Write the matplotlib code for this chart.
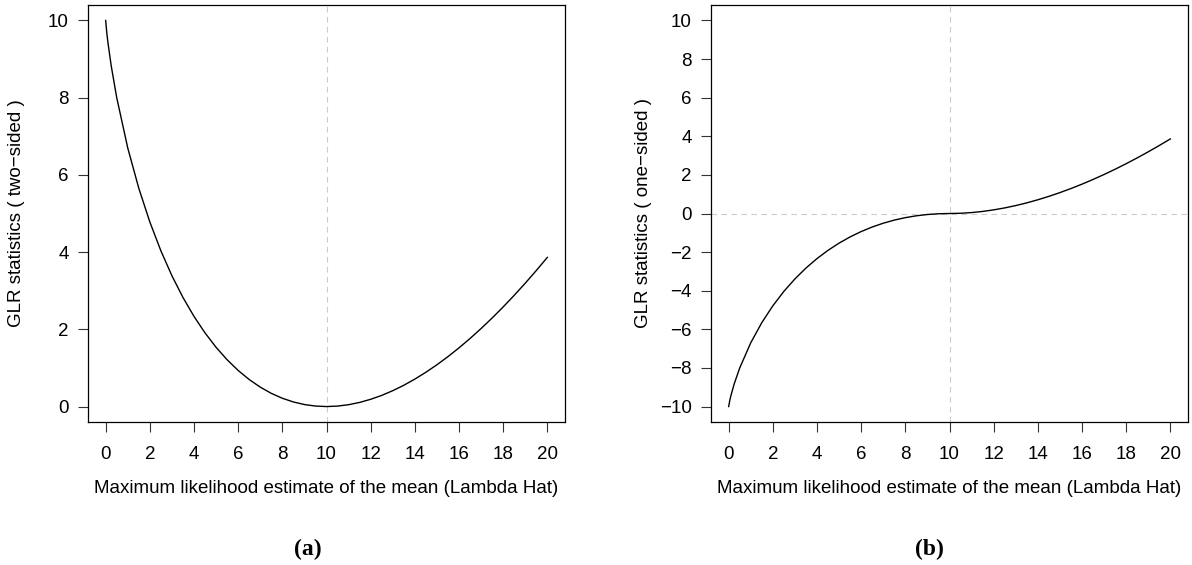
import numpy as np
import matplotlib
matplotlib.use('Agg')
import matplotlib.pyplot as plt

plt.rcParams['font.family'] = ['Liberation Sans', 'DejaVu Sans']
plt.rcParams['axes.unicode_minus'] = True

# MLE of the Poisson mean (null mean = 10)
lam_hat = [0, 0.05, 0.1, 0.25, 0.5, 1, 1.5, 2, 2.5, 3, 3.5, 4, 4.5, 5, 5.5, 6, 6.5,
           7, 7.5, 8, 8.5, 9, 9.5, 10, 10.5, 11, 11.5, 12, 12.5, 13, 13.5, 14,
           14.5, 15, 15.5, 16, 16.5, 17, 17.5, 18, 18.5, 19, 19.5, 20]

# GLR statistic, two-sided
glr_two = [10.0, 9.685, 9.439, 8.828, 8.002, 6.697, 5.654, 4.781, 4.034, 3.388,
           2.826, 2.335, 1.907, 1.534, 1.212, 0.935, 0.700, 0.503, 0.342, 0.215,
           0.119, 0.052, 0.013, 0.0, 0.012, 0.048, 0.107, 0.188, 0.289, 0.411,
           0.551, 0.711, 0.888, 1.082, 1.293, 1.520, 1.763, 2.021, 2.293, 2.580,
           2.881, 3.195, 3.523, 3.863]

# GLR statistic, one-sided (signed)
glr_one = [-10.0, -9.685, -9.439, -8.828, -8.002, -6.697, -5.654, -4.781, -4.034,
           -3.388, -2.826, -2.335, -1.907, -1.534, -1.212, -0.935, -0.700, -0.503,
           -0.342, -0.215, -0.119, -0.052, -0.013, 0.0, 0.012, 0.048, 0.107, 0.188,
           0.289, 0.411, 0.551, 0.711, 0.888, 1.082, 1.293, 1.520, 1.763, 2.021,
           2.293, 2.580, 2.881, 3.195, 3.523, 3.863]

x_ticks = np.arange(0, 21, 2)
W, H = 1192, 565
fig = plt.figure(figsize=(W / 100, H / 100), dpi=100)


def box(left, top, right, bottom):
    return [left / W, 1 - bottom / H, (right - left) / W, (bottom - top) / H]


def style(ax, ylim, yticks, ylab, ylab_x):
    ax.set_xlim(-0.8, 20.8)
    ax.set_ylim(*ylim)
    ax.set_xticks(x_ticks)
    ax.set_yticks(yticks)
    ax.tick_params(axis='both', direction='out', length=7, width=0.8,
                   labelsize=13.5, color='#333333')
    ax.tick_params(axis='x', pad=10)
    ax.tick_params(axis='y', pad=7)
    for s in ax.spines.values():
        s.set_linewidth(0.9)
    ax.set_xlabel('Maximum likelihood estimate of the mean (Lambda Hat)', fontsize=13.5)
    ax.xaxis.set_label_coords(0.5, -0.139)
    ax.set_ylabel(ylab, fontsize=13.5)
    ax.yaxis.set_label_coords(ylab_x, 0.5)


dash = dict(color='#cccccc', lw=0.8, linestyle=(0, (5, 4)), zorder=1)

# (a) two-sided
ax1 = fig.add_axes(box(88, 5, 565, 422))
ax1.axvline(10, **dash)
ax1.plot(lam_hat, glr_two, color='black', lw=1.0)
style(ax1, (-0.4, 10.4), np.arange(0, 11, 2), 'GLR statistics ( two\u2212sided )', -0.132)

# (b) one-sided
ax2 = fig.add_axes(box(711, 5, 1188, 422))
ax2.axvline(10, **dash)
ax2.axhline(0, **dash)
ax2.plot(lam_hat, glr_one, color='black', lw=1.0)
style(ax2, (-10.8, 10.8), np.arange(-10, 11, 2), 'GLR statistics ( one\u2212sided )', -0.124)

fig.text(308 / W, 1 - 549 / H, '(a)', ha='center', va='center', fontsize=17,
         fontweight='bold', family='Liberation Serif')
fig.text(929 / W, 1 - 549 / H, '(b)', ha='center', va='center', fontsize=17,
         fontweight='bold', family='Liberation Serif')

fig.savefig('out.png', dpi=100)
